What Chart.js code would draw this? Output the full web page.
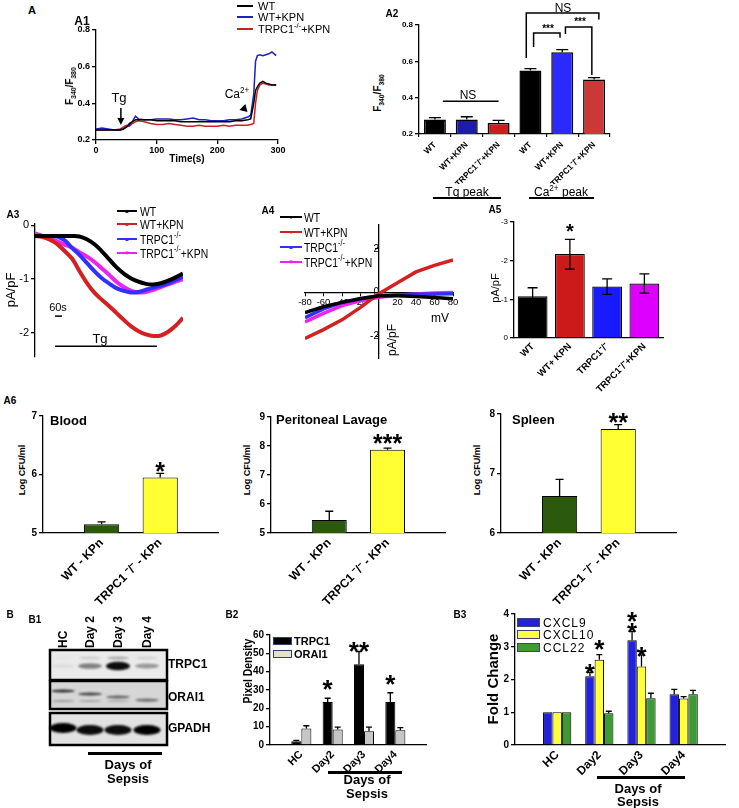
<!DOCTYPE html>
<html lang="en">
<head>
<meta charset="UTF-8">
<title>TRPC1 / KPn sepsis panels</title>
<script src="https://cdn.jsdelivr.net/npm/chart.js"></script>
<style>
  html, body { margin: 0; padding: 0; background: #fff; }
  #fig { position: relative; width: 739px; height: 808px; overflow: hidden;
         font-family: Arial, "Liberation Sans", Helvetica, sans-serif; color: #000; }
  #fig canvas { position: absolute; }
  .lb { position: absolute; white-space: nowrap; line-height: 1; }
  .lb sub, .lb sup { font-size: 68%; line-height: 0; }
  .ln { position: absolute; box-sizing: border-box; }
</style>
</head>
<body>
<div id="fig">
  <canvas id="a1"></canvas>
  <canvas id="a2"></canvas>
  <canvas id="a3"></canvas>
  <canvas id="a4"></canvas>
  <canvas id="a5"></canvas>
  <canvas id="blood"></canvas>
  <canvas id="lavage"></canvas>
  <canvas id="spleen"></canvas>
  <canvas id="b1"></canvas>
  <canvas id="b2"></canvas>
  <canvas id="b3"></canvas>
</div>
<script>
// ---------------- data ----------------
// A1 - F340/F380 trace
const a1Time = [0,10,20,30,40,45,50,55,60,65,70,80,90,100,110,120,130,140,150,160,170,180,190,200,210,220,230,240,250,255,260,263,266,270,275,280,285,290,297];
const a1WT  = [0.255,0.255,0.255,0.255,0.255,0.26,0.27,0.29,0.30,0.31,0.31,0.31,0.31,0.305,0.305,0.305,0.305,0.30,0.30,0.30,0.30,0.30,0.30,0.30,0.30,0.30,0.305,0.305,0.31,0.315,0.40,0.47,0.49,0.51,0.52,0.51,0.505,0.50,0.50];
const a1KPN = [0.26,0.265,0.26,0.255,0.255,0.26,0.27,0.28,0.30,0.33,0.315,0.31,0.31,0.315,0.315,0.315,0.31,0.31,0.315,0.32,0.31,0.31,0.305,0.305,0.305,0.31,0.31,0.315,0.325,0.335,0.45,0.63,0.66,0.665,0.66,0.665,0.67,0.68,0.66];
const a1KO  = [0.255,0.255,0.255,0.255,0.26,0.27,0.28,0.275,0.29,0.30,0.305,0.30,0.29,0.285,0.285,0.29,0.285,0.28,0.275,0.275,0.28,0.275,0.275,0.275,0.28,0.275,0.28,0.28,0.28,0.285,0.29,0.40,0.47,0.50,0.51,0.505,0.50,0.50,0.50];

// A2 - peaks
const a2Labels = ['WT', 'WT+KPN', 'TRPC1⁻/⁻+KPN', 'WT', 'WT+KPN', 'TRPC1⁻/⁻+KPN'];
const a2Mean = [0.28, 0.28, 0.26, 0.55, 0.65, 0.50];
const a2Err  = [0.29, 0.295, 0.275, 0.56, 0.665, 0.51];

// A3 - current vs time
const a3Time   = [0,5,10,15,20,25,30,35,40,45,50,55,60,65,70,75,80,85,90,95,100];
const a3WT     = [-0.2,-0.2,-0.2,-0.2,-0.2,-0.2,-0.21,-0.26,-0.35,-0.48,-0.63,-0.78,-0.9,-0.99,-1.05,-1.09,-1.1,-1.08,-1.03,-0.97,-0.9];
const a3KPN    = [-0.2,-0.22,-0.27,-0.35,-0.48,-0.62,-0.85,-1.07,-1.25,-1.38,-1.5,-1.63,-1.76,-1.88,-1.97,-2.03,-2.06,-2.05,-1.98,-1.87,-1.72];
const a3KO     = [-0.2,-0.2,-0.2,-0.21,-0.28,-0.42,-0.55,-0.7,-0.85,-0.98,-1.08,-1.17,-1.22,-1.25,-1.24,-1.2,-1.16,-1.12,-1.08,-1.02,-0.96];
const a3KOKPN  = [-0.15,-0.2,-0.25,-0.3,-0.36,-0.42,-0.5,-0.58,-0.68,-0.8,-0.92,-1.05,-1.15,-1.22,-1.25,-1.24,-1.2,-1.15,-1.1,-1.05,-1.0];

// A4 - I/V
const a4mV     = [-80,-60,-40,-20,0,20,40,60,80];
const a4WT     = [-0.92,-0.65,-0.45,-0.27,-0.15,-0.15,-0.18,-0.22,-0.28];
const a4KPN    = [-2.1,-1.7,-1.25,-0.68,-0.05,0.45,0.95,1.25,1.5];
const a4KO     = [-1.15,-0.75,-0.45,-0.3,-0.15,-0.1,-0.08,-0.06,-0.05];
const a4KOKPN  = [-1.35,-0.95,-0.6,-0.38,-0.22,-0.12,-0.06,-0.02,0.0];

// A5
const a5Labels = ['WT', 'WT+ KPN', 'TRPC1⁻/⁻', 'TRPC1⁻/⁻+KPN'];
const a5Mean = [-1.08, -2.17, -1.33, -1.41];
const a5Hi   = [-1.3, -2.55, -1.53, -1.66];
const a5Lo   = [-0.86, -1.78, -1.13, -1.16];

// A6 - bacterial load (log CFU/ml)
const a6Groups  = ['WT - KPn', 'TRPC1 ⁻/⁻ - KPn'];
const bloodCFU  = [5.15, 5.95], bloodErr  = [5.19, 6.02];
const lavageCFU = [5.45, 7.87], lavageErr = [5.75, 7.93];
const spleenCFU = [6.62, 7.75], spleenErr = [6.9, 7.82];

// B1 - blot band intensity per lane
const lanes     = ['HC', 'Day 2', 'Day 3', 'Day 4'];
const trpc1Band = [0.06, 0.45, 0.95, 0.35];
const orai1Band = [0.8, 0.7, 0.55, 0.45];
const gapdhBand = [1, 0.95, 0.95, 1];

// B2 - pixel density
const days       = ['HC', 'Day2', 'Day3', 'Day4'];
const trpc1Pd    = [2, 23.5, 44, 23.5],  trpc1PdErr = [2.5, 25.5, 51, 28.5];
const orai1Pd    = [9, 8.5, 7.5, 8],     orai1PdErr = [10.5, 9.7, 9.8, 9.5];

// B3 - fold change
const cxcl9  = [1, 2.1, 3.2, 1.55],  cxcl9Err  = [null, 2.22, 3.47, 1.7];
const cxcl10 = [1, 2.6, 2.4, 1.42],  cxcl10Err = [null, 2.76, 2.75, 1.48];
const ccl22  = [1, 0.97, 1.43, 1.55], ccl22Err = [null, 1.03, 1.58, 1.67];

// ---------------- helpers ----------------
Chart.defaults.font.family = 'Arial, "Liberation Sans", Helvetica, sans-serif';
Chart.defaults.color = '#000';

const fig = document.getElementById('fig');
const marks = {};   // per canvas id: annotation marks in data units

// error bars, brackets, arrows and stars drawn through the chart scales
const extras = {
  id: 'extras',
  afterDatasetsDraw(chart) {
    const ctx = chart.ctx, xs = chart.scales.x, ys = chart.scales.y;
    const X = v => xs.getPixelForValue(v), Y = v => ys.getPixelForValue(v);
    ctx.save();
    ctx.strokeStyle = '#000';
    ctx.fillStyle = '#000';
    chart.data.datasets.forEach((ds, di) => {
      if (!ds.errHi) return;
      const meta = chart.getDatasetMeta(di);
      ctx.lineWidth = ds.errWidth || 1.3;
      meta.data.forEach((bar, i) => {
        const hi = ds.errHi[i];
        if (hi == null) return;
        const lo = ds.errLo ? ds.errLo[i] : ds.data[i];
        const cap = ds.errCap || 3;
        const y1 = Y(hi), y0 = Y(lo);
        ctx.beginPath();
        ctx.moveTo(bar.x, y0); ctx.lineTo(bar.x, y1);
        ctx.moveTo(bar.x - cap, y1); ctx.lineTo(bar.x + cap, y1);
        if (ds.errLo) { ctx.moveTo(bar.x - cap, y0); ctx.lineTo(bar.x + cap, y0); }
        ctx.stroke();
      });
    });
    (marks[chart.canvas.id] || []).forEach(m => {
      if (m.k === 'path') {
        ctx.lineWidth = m.w || 1.3;
        ctx.beginPath();
        m.pts.forEach((p, j) => j ? ctx.lineTo(X(p[0]), Y(p[1])) : ctx.moveTo(X(p[0]), Y(p[1])));
        ctx.stroke();
      } else if (m.k === 'arrow') {
        const x = X(m.x), y0 = Y(m.y0), y1 = Y(m.y1);
        ctx.lineWidth = 1.5;
        ctx.beginPath(); ctx.moveTo(x, y0); ctx.lineTo(x, y1 - 5); ctx.stroke();
        ctx.beginPath(); ctx.moveTo(x, y1); ctx.lineTo(x - 3.5, y1 - 7); ctx.lineTo(x + 3.5, y1 - 7); ctx.closePath(); ctx.fill();
      } else if (m.k === 'tri') {
        const x = X(m.x), y = Y(m.y);
        ctx.beginPath(); ctx.moveTo(x + 4, y + 4); ctx.lineTo(x - 4, y + 2); ctx.lineTo(x + 2, y - 4); ctx.closePath(); ctx.fill();
      } else if (m.k === 'star') {
        const bar = chart.getDatasetMeta(m.ds).data[m.i];
        ctx.font = 'bold ' + m.size + 'px Arial, "Liberation Sans", sans-serif';
        ctx.textAlign = 'center';
        ctx.textBaseline = 'alphabetic';
        ctx.fillText(m.t, bar.x, Y(m.y) + m.size * 0.57);
      }
    });
    ctx.restore();
  }
};
Chart.register(extras);

// places the canvas so that the chart area lands on `area` (page px)
function frame(id, area, yw, xh, p) {
  const c = document.getElementById(id);
  const left = area.l - yw - p[0], top = area.t - p[1];
  const w = area.r + p[2] - left, h = area.b + xh + p[3] - top;
  c.width = w; c.height = h;
  Object.assign(c.style, {left: left + 'px', top: top + 'px', width: w + 'px', height: h + 'px'});
  return {left: p[0], top: p[1], right: p[2], bottom: p[3]};
}

const fnt = (size, bold) => ({size: size, weight: bold ? 'bold' : 'normal'});

function yLin(min, max, step, w, size, bold, extra) {
  return Object.assign({
    type: 'linear', min: min, max: max,
    border: {color: '#000', width: 1.3},
    grid: {drawOnChartArea: false, color: '#000', lineWidth: 1.3, tickLength: 4},
    ticks: {stepSize: step, font: fnt(size, bold), padding: 2, includeBounds: false},
    afterFit: s => { s.width = w; }
  }, extra || {});
}

function xCat(h, size, bold, rot, extra) {
  return Object.assign({
    type: 'category', offset: true,
    border: {color: '#000', width: 1.3},
    grid: {drawOnChartArea: false, drawTicks: false},
    ticks: {font: fnt(size, bold), minRotation: rot, maxRotation: rot, autoSkip: false, padding: 3},
    afterFit: s => { s.height = h; }
  }, extra || {});
}

function makeChart(id, type, labels, datasets, scales, padding) {
  return new Chart(document.getElementById(id), {
    type: type,
    data: {labels: labels, datasets: datasets},
    options: {
      responsive: false, animation: false, devicePixelRatio: 1,
      layout: {padding: padding},
      plugins: {legend: {display: false}, tooltip: {enabled: false}},
      scales: scales
    }
  });
}

const pts = (xs, ys) => xs.map((x, i) => ({x: x, y: ys[i]}));
const pad = a => [null].concat(a, [null]);
const padL = a => [''].concat(a, ['']);

function lab(html, x, y, size, o) {
  o = o || {};
  const d = document.createElement('div');
  d.className = 'lb';
  d.innerHTML = html;
  d.style.left = x + 'px';
  d.style.top = y + 'px';
  d.style.fontSize = size + 'px';
  if (o.b) d.style.fontWeight = 'bold';
  if (o.c) d.style.color = o.c;
  if (o.ls) d.style.letterSpacing = o.ls + 'px';
  const tx = o.a === 'l' ? '0' : o.a === 'r' ? '-100%' : '-50%';
  if (o.a === 'l') d.style.transformOrigin = 'left center';
  let t = 'translate(' + tx + ',-50%)';
  if (o.r) t += ' rotate(' + o.r + 'deg)';
  if (o.sx) t += ' scaleX(' + o.sx + ')';
  d.style.transform = t;
  fig.appendChild(d);
  return d;
}
function vlab(text, x, yBottom, size) {
  const d = lab(text, x, yBottom, size, {b: 1});
  d.style.transformOrigin = '0 0';
  d.style.transform = 'translate(' + (-size / 2) + 'px,0) rotate(-90deg)';
}
function rule(x1, x2, y, w, color) {
  const d = document.createElement('div');
  d.className = 'ln';
  Object.assign(d.style, {left: x1 + 'px', top: (y - w / 2) + 'px', width: (x2 - x1) + 'px',
    height: w + 'px', background: color || '#000'});
  fig.appendChild(d);
}
function swatch(x, y, w, h, fill, border) {
  const d = document.createElement('div');
  d.className = 'ln';
  Object.assign(d.style, {left: x + 'px', top: y + 'px', width: w + 'px', height: h + 'px',
    background: fill, border: '1.5px solid ' + border});
  fig.appendChild(d);
}

// ---------------- A1 ----------------
const a1Colors = ['#000', '#2020c0', '#cc2020'];
marks.a1 = [
  {k: 'arrow', x: 41, y0: 0.375, y1: 0.282},
  {k: 'tri', x: 243, y: 0.375}
];
makeChart('a1', 'line', undefined, [
  {data: pts(a1Time, a1WT),  borderColor: a1Colors[0], borderWidth: 1.5, pointRadius: 0},
  {data: pts(a1Time, a1KPN), borderColor: a1Colors[1], borderWidth: 1.5, pointRadius: 0},
  {data: pts(a1Time, a1KO),  borderColor: a1Colors[2], borderWidth: 1.5, pointRadius: 0}
], {
  x: {type: 'linear', min: 0, max: 300,
      border: {color: '#000', width: 1.3},
      grid: {drawOnChartArea: false, color: '#000', lineWidth: 1.3, tickLength: 4},
      ticks: {stepSize: 100, font: fnt(9, true), padding: 1},
      afterFit: s => { s.height = 18; }},
  y: yLin(0.2, 0.8, 0.2, 26, 9, true)
}, frame('a1', {l: 96, t: 30, r: 278, b: 140}, 26, 18, [2, 10, 14, 2]));

// ---------------- A2 ----------------
const a2Colors = ['#000', '#1c1ca8', '#cc1c1c', '#000', '#2a2aff', '#cc3838'];
marks.a2 = [
  {k: 'path', pts: [[0.25, 0.38], [2, 0.38]], w: 1.5},
  {k: 'path', pts: [[2.87, 0.618], [2.87, 0.866], [5.15, 0.866], [5.15, 0.83]], w: 1.5},
  {k: 'path', pts: [[3.1, 0.679], [3.1, 0.756], [3.93, 0.756], [3.93, 0.73]], w: 1.5},
  {k: 'path', pts: [[4.1, 0.75], [4.1, 0.789], [4.93, 0.789], [4.93, 0.525]], w: 1.5}
];
makeChart('a2', 'bar', a2Labels, [
  {data: a2Mean, backgroundColor: a2Colors, borderColor: '#000', borderWidth: 1.5,
   barPercentage: 0.69, categoryPercentage: 1, errHi: a2Err, errCap: 6}
], {
  x: xCat(50, 8.5, true, 45, {grid: {drawOnChartArea: false, color: '#000', lineWidth: 1.2, tickLength: 3}}),
  y: yLin(0.2, 0.8, 0.2, 22, 8, true)
}, frame('a2', {l: 419, t: 25, r: 610, b: 134}, 22, 50, [2, 25, 8, 2]));

// ---------------- A3 ----------------
const eColors = ['#000', '#d42020', '#3030ff', '#ee22ee'];
marks.a3 = [
  {k: 'path', pts: [[13.5, -1.69], [18.2, -1.69]], w: 1.5},
  {k: 'path', pts: [[13.5, -2.25], [82.4, -2.25]], w: 1.3}
];
makeChart('a3', 'line', undefined, [
  {data: pts(a3Time, a3WT),    borderColor: eColors[0], borderWidth: 4, pointRadius: 0, tension: 0.4},
  {data: pts(a3Time, a3KPN),   borderColor: eColors[1], borderWidth: 4, pointRadius: 0, tension: 0.4},
  {data: pts(a3Time, a3KO),    borderColor: eColors[2], borderWidth: 4, pointRadius: 0, tension: 0.4},
  {data: pts(a3Time, a3KOKPN), borderColor: eColors[3], borderWidth: 4, pointRadius: 0, tension: 0.4}
], {
  x: {type: 'linear', min: 0, max: 100, display: false},
  y: yLin(-2.45, 0.03, 1, 18, 11, false)
}, frame('a3', {l: 35, t: 223, r: 183, b: 357}, 18, 0, [2, 8, 2, 9]));

// ---------------- A4 ----------------
const axis0 = {color: '#000', width: 1.3};
makeChart('a4', 'line', undefined, [
  {data: pts(a4mV, a4WT),    borderColor: eColors[0], borderWidth: 3.5, pointRadius: 0},
  {data: pts(a4mV, a4KPN),   borderColor: eColors[1], borderWidth: 3.5, pointRadius: 0},
  {data: pts(a4mV, a4KO),    borderColor: eColors[2], borderWidth: 3.5, pointRadius: 0},
  {data: pts(a4mV, a4KOKPN), borderColor: eColors[3], borderWidth: 3.5, pointRadius: 0}
], {
  x: {type: 'linear', min: -80, max: 80, position: {y: 0}, border: axis0,
      grid: {drawOnChartArea: false, color: '#000', tickLength: 3},
      ticks: {stepSize: 20, font: fnt(9.5), padding: 1, maxRotation: 0, minRotation: 0, autoSkip: false,
              callback: v => v === 0 ? '' : v}},
  y: {type: 'linear', min: -3, max: 3.1, position: {x: 0}, border: axis0,
      grid: {drawOnChartArea: false, color: '#000', tickLength: 3},
      ticks: {stepSize: 2, font: fnt(10), padding: 2, includeBounds: false}}
}, frame('a4', {l: 305, t: 223, r: 453, b: 360}, 0, 0, [12, 6, 12, 6]));

// ---------------- A5 ----------------
const a5Colors = ['#000', '#cc1a1a', '#1a1aff', '#dd00ff'];
marks.a5 = [{k: 'star', ds: 0, i: 1, y: -2.87, t: '*', size: 20}];
makeChart('a5', 'bar', a5Labels, [
  {data: a5Mean, backgroundColor: a5Colors, borderColor: '#000', borderWidth: 1.2,
   barPercentage: 0.8, categoryPercentage: 1, errHi: a5Hi, errLo: a5Lo, errCap: 5}
], {
  x: xCat(56, 9.5, true, 45),
  y: yLin(-3, 0, 1, 16, 8, false, {reverse: true})
}, frame('a5', {l: 514, t: 222, r: 663, b: 338}, 16, 56, [2, 8, 8, 2]));

// ---------------- A6 ----------------
const cfuColors = ['#2b5a0e', '#ffff33'];
function cfuChart(id, area, yMin, yMax, vals, errs, star) {
  marks[id] = [{k: 'star', ds: 0, i: 2, y: star.y, t: star.t, size: 25}];
  makeChart(id, 'bar', padL(a6Groups), [
    {data: pad(vals), backgroundColor: pad(cfuColors), borderColor: '#000', borderWidth: 1,
     barPercentage: 0.6, categoryPercentage: 1, errHi: pad(errs), errCap: 4}
  ], {
    x: xCat(74, 12, true, 45, {offset: false}),
    y: yLin(yMin, yMax, 1, 14, 10, true)
  }, frame(id, area, 14, 74, [2, 10, 4, 2]));
}
cfuChart('blood',  {l: 43,  t: 416, r: 228, b: 533}, 5, 7, bloodCFU,  bloodErr,  {y: 6.15, t: '*'});
cfuChart('lavage', {l: 271, t: 417, r: 455, b: 533}, 5, 9, lavageCFU, lavageErr, {y: 8.28, t: '***'});
cfuChart('spleen', {l: 501, t: 414, r: 686, b: 533}, 6, 8, spleenCFU, spleenErr, {y: 7.95, t: '**'});

// ---------------- B1 (blot) ----------------
(function drawBlot() {
  const c = document.getElementById('b1');
  const ox = 46, oy = 646;
  c.width = 124; c.height = 104;
  Object.assign(c.style, {left: ox + 'px', top: oy + 'px', width: '124px', height: '104px'});
  const ctx = c.getContext('2d');
  const laneX = [63, 90, 118, 147];
  const strips = [[650, 680, '#eaeaea'], [681, 709, '#d6d6d6'], [713, 745, '#e2e2e2']];
  strips.forEach(s => { ctx.fillStyle = s[2]; ctx.fillRect(50 - ox, s[0] - oy, 117, s[1] - s[0]); });
  const band = (x, y, bw, bh, a) => {
    ctx.fillStyle = 'rgba(0,0,0,' + a + ')';
    ctx.beginPath();
    ctx.ellipse(x - ox, y - oy, bw / 2, bh / 2, 0, 0, 2 * Math.PI);
    ctx.fill();
  };
  ctx.filter = 'blur(1.2px)';
  trpc1Band.forEach((a, i) => {
    band(laneX[i], 666, 24, 3 + 6 * a, a);
    band(laneX[i], 658, 22, 3, a * 0.3);
  });
  orai1Band.forEach((a, i) => {
    band(laneX[i], 691 + i * 3, 24, 3, a);
    band(laneX[i], 701, 22, 2, a * 0.35);
  });
  gapdhBand.forEach((a, i) => band(laneX[i], 729 + (i === 0 ? -1 : 1), 27, 10, a));
  ctx.filter = 'none';
  ctx.strokeStyle = '#000';
  ctx.lineWidth = 2.5;
  strips.forEach(s => ctx.strokeRect(50 - ox, s[0] - oy, 117, s[1] - s[0]));
  lanes.forEach((t, i) => vlab(t, laneX[i], 648, 12));
})();

// ---------------- B2 ----------------
marks.b2 = [
  {k: 'star', ds: 0, i: 2, y: 33.5, t: '*', size: 26},
  {k: 'star', ds: 0, i: 3, y: 54.5, t: '**', size: 26},
  {k: 'star', ds: 0, i: 4, y: 36.5, t: '*', size: 26}
];
const b2Colors = ['#000', '#c6c6c6'];
makeChart('b2', 'bar', padL(days), [
  {data: pad(trpc1Pd), backgroundColor: b2Colors[0], borderColor: '#000', borderWidth: 1,
   barPercentage: 1, categoryPercentage: 0.64, errHi: pad(trpc1PdErr), errCap: 3},
  {data: pad(orai1Pd), backgroundColor: b2Colors[1], borderColor: '#000', borderWidth: 1,
   barPercentage: 1, categoryPercentage: 0.64, errHi: pad(orai1PdErr), errCap: 3}
], {
  x: xCat(30, 11, true, 45, {offset: false}),
  y: yLin(0, 60, 10, 18, 10, true)
}, frame('b2', {l: 270, t: 635, r: 435, b: 745}, 18, 30, [2, 10, 4, 2]));

// ---------------- B3 ----------------
const b3Colors = ['#2222dd', '#ffff40', '#3d9a35'];
marks.b3 = [
  {k: 'star', ds: 0, i: 2, y: 2.38, t: '*', size: 26},
  {k: 'star', ds: 1, i: 2, y: 3.11, t: '*', size: 26},
  {k: 'star', ds: 0, i: 3, y: 3.97, t: '*', size: 26},
  {k: 'star', ds: 0, i: 3, y: 3.63, t: '*', size: 26},
  {k: 'star', ds: 1, i: 3, y: 2.9, t: '*', size: 26}
];
const b3Bar = (d, e, col) => ({data: pad(d), backgroundColor: col, borderColor: '#000', borderWidth: 1,
  barPercentage: 1, categoryPercentage: 0.67, errHi: pad(e), errCap: 3});
makeChart('b3', 'bar', padL(days), [
  b3Bar(cxcl9, cxcl9Err, b3Colors[0]),
  b3Bar(cxcl10, cxcl10Err, b3Colors[1]),
  b3Bar(ccl22, ccl22Err, b3Colors[2])
], {
  x: xCat(34, 12, true, 45, {offset: false}),
  y: yLin(0, 4, 1, 18, 10, true)
}, frame('b3', {l: 515, t: 614, r: 738, b: 745}, 18, 34, [2, 10, 1, 2]));

// ---------------- text overlays ----------------
// panel letters
lab('A', 32, 10, 11, {b: 1});
lab('A1', 82, 21, 12, {b: 1});
lab('A2', 392, 14, 10, {b: 1});
lab('A3', 13, 215, 10, {b: 1});
lab('A4', 268, 211, 10, {b: 1});
lab('A5', 495, 210, 10, {b: 1});
lab('A6', 10, 401, 10, {b: 1});
lab('B', 10, 615, 10, {b: 1});
lab('B1', 35, 620, 10, {b: 1});
lab('B2', 232, 615, 10, {b: 1});
lab('B3', 460, 615, 10, {b: 1});

// A1
lab('F<sub>340</sub>/F<sub>380</sub>', 70, 86, 10, {b: 1, r: -90});
lab('Time(s)', 187, 159, 10, {b: 1});
lab('Tg', 119, 97, 13);
lab('Ca<sup>2+</sup>', 237, 94, 12);
const a1Names = ['WT', 'WT+KPN', 'TRPC1<sup>-/-</sup>+KPN'];
[6, 17, 29].forEach((y, i) => {
  rule(237, 253, y, 2, a1Colors[i]);
  lab(a1Names[i], 258, y, 11, {a: 'l'});
});

// A2
lab('F<sub>340</sub>/F<sub>380</sub>', 378, 93, 10, {b: 1, r: -90});
lab('NS', 468, 95, 12);
lab('NS', 563, 8, 12);
lab('***', 548, 29, 10, {b: 1});
lab('***', 580, 22, 10, {b: 1});
lab('Tg peak', 467, 192, 12);
rule(433, 501, 198, 1.5);
lab('Ca<sup>2+</sup> peak', 561, 192, 12);
rule(529, 594, 198, 1.5);

// A3 / A4 legends
const eNames = ['WT', 'WT+KPN', 'TRPC1<sup>-/-</sup>', 'TRPC1<sup>-/-</sup>+KPN'];
const a3Glyph = ['■', '■', '▲', '▼'];
const a4Glyph = ['●', '●', '▲', '▼'];
[211, 224, 239, 253].forEach((y, i) => {
  rule(117, 137, y, 2.5, eColors[i]);
  lab(a3Glyph[i], 127, y, 6, {c: eColors[i]});
  lab(eNames[i], 140, y, 13, {a: 'l', sx: 0.8});
});
lab('pA/pF', 10, 290, 13, {r: -90});
lab('60s', 58, 307, 11);
lab('Tg', 100, 338, 13);

[217, 232, 247, 262].forEach((y, i) => {
  rule(280, 302, y, 2.5, eColors[i]);
  lab(a4Glyph[i], 291, y, 6, {c: eColors[i]});
  lab(eNames[i], 304, y, 13, {a: 'l', sx: 0.8});
});
lab('mV', 440, 318, 12);
lab('pA/pF', 392, 340, 12, {r: -90});

// A5
lab('pA/pF', 495, 288, 11, {r: -90});

// A6
lab('Log CFU/ml', 22, 470, 9, {b: 1, r: -90});
lab('Log CFU/ml', 247, 470, 9, {b: 1, r: -90});
lab('Log CFU/ml', 477, 470, 9, {b: 1, r: -90});
lab('Blood', 50, 420, 13, {b: 1, a: 'l'});
lab('Peritoneal Lavage', 276, 419, 13, {b: 1, a: 'l'});
lab('Spleen', 512, 419, 13, {b: 1, a: 'l'});

// B1
lab('TRPC1', 168, 664, 12, {b: 1, a: 'l'});
lab('ORAI1', 168, 697, 12, {b: 1, a: 'l'});
lab('GPADH', 168, 728, 12, {b: 1, a: 'l'});
rule(88, 162, 753, 3);
lab('Days of', 128, 764, 13, {b: 1});
lab('Sepsis', 128, 778, 13, {b: 1});

// B2
lab('Pixel Density', 247, 671, 13, {b: 1, r: -90, sx: 0.8});
swatch(273, 637, 19, 8, b2Colors[0], '#2c3e7c');
swatch(273, 650, 19, 8, '#e6e2c6', '#2c3e7c');
lab('TRPC1', 294, 641, 11, {b: 1, a: 'l'});
lab('ORAI1', 294, 654, 11, {b: 1, a: 'l'});
rule(328, 402, 772, 3);
lab('Days of', 367, 779, 13, {b: 1});
lab('Sepsis', 367, 793, 13, {b: 1});

// B3
lab('Fold Change', 492, 679, 15, {b: 1, r: -90});
const b3Names = ['CXCL9', 'CXCL10', 'CCL22'];
[623, 635, 648].forEach((y, i) => {
  swatch(517, y - 5, 23, 9, b3Colors[i], '#3a4470');
  lab(b3Names[i], 543, y, 12, {a: 'l', ls: 1});
});
rule(597, 685, 777, 3);
lab('Days of', 638, 788, 13, {b: 1});
lab('Sepsis', 638, 801, 13, {b: 1});
</script>
</body>
</html>
